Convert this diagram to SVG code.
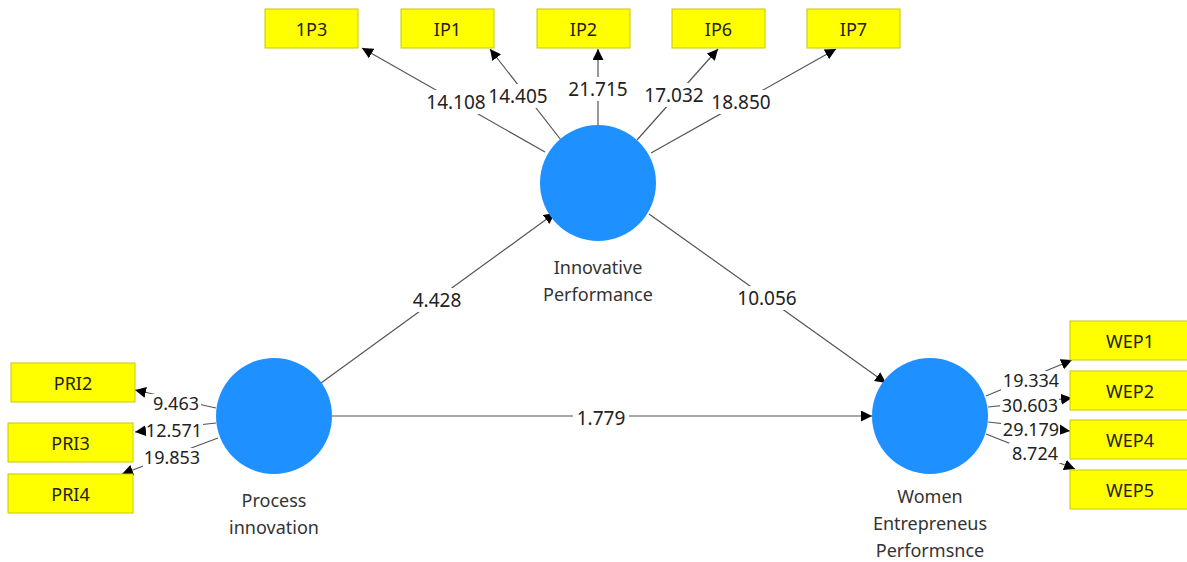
<svg xmlns="http://www.w3.org/2000/svg" width="1187" height="562" viewBox="0 0 1187 562">
<defs>
<marker id="ah" viewBox="0 0 10 10" refX="10" refY="5" markerWidth="11" markerHeight="11" markerUnits="userSpaceOnUse" orient="auto">
<path d="M0,0 L10,5 L0,10 z" fill="#000"/>
</marker>
<style>
.box{fill:#ffff00;stroke:#c8c800;stroke-width:1}
.bt{font-family:"Noto Sans","Open Sans",sans-serif;font-size:18px;fill:#222;text-anchor:middle;dominant-baseline:central}
.lv{fill:#1e90ff}
.lt{font-family:"Noto Sans","Open Sans",sans-serif;font-size:18px;fill:#333;text-anchor:middle}
.c{stroke:#555;stroke-width:1.2;fill:none;marker-end:url(#ah)}
.n{font-family:"Noto Sans","Open Sans",sans-serif;font-size:19px;fill:#222;text-anchor:middle;dominant-baseline:central}
.s{font-size:18px}
.bg{fill:#fff}
</style>
</defs>
<rect width="1187" height="562" fill="#fff"/>
<g id="connectors">
<line class="c" x1="545" y1="152" x2="362" y2="48"/>
<line class="c" x1="561" y1="140" x2="490" y2="49"/>
<line class="c" x1="598" y1="125" x2="598" y2="49"/>
<line class="c" x1="637" y1="140" x2="718" y2="49"/>
<line class="c" x1="651" y1="153" x2="836" y2="49"/>
<line class="c" x1="321" y1="383" x2="555" y2="213"/>
<line class="c" x1="649" y1="214" x2="886" y2="383"/>
<line class="c" x1="332" y1="416" x2="872" y2="416"/>
<line class="c" x1="216" y1="408" x2="135" y2="390"/>
<line class="c" x1="216" y1="423" x2="135" y2="432"/>
<line class="c" x1="218" y1="438" x2="122" y2="474"/>
<line class="c" x1="986" y1="396" x2="1072" y2="360"/>
<line class="c" x1="988" y1="407" x2="1072" y2="398"/>
<line class="c" x1="988" y1="422" x2="1070" y2="431"/>
<line class="c" x1="986" y1="434" x2="1075" y2="469"/>
<rect class="bg" x="422" y="90" width="68" height="24"/>
<rect class="bg" x="486" y="84" width="64" height="24"/>
<rect class="bg" x="564" y="77" width="68" height="24"/>
<rect class="bg" x="642" y="83" width="64" height="24"/>
<rect class="bg" x="707" y="90" width="68" height="24"/>
<rect class="bg" x="409" y="288" width="56" height="24"/>
<rect class="bg" x="731" y="286" width="72" height="24"/>
<rect class="bg" x="573" y="406" width="56" height="24"/>
<rect class="bg" x="151" y="394" width="50" height="20"/>
<rect class="bg" x="146" y="421" width="57" height="20"/>
<rect class="bg" x="143" y="448" width="58" height="20"/>
<rect class="bg" x="1001" y="371" width="60" height="20"/>
<rect class="bg" x="1000" y="396" width="59" height="17"/>
<rect class="bg" x="1001" y="419" width="59" height="20"/>
<rect class="bg" x="1009" y="443" width="52" height="20"/>
<text class="n" x="456" y="102">14.108</text>
<text class="n" x="518" y="96">14.405</text>
<text class="n" x="598" y="89">21.715</text>
<text class="n" x="674" y="95">17.032</text>
<text class="n" x="741" y="102">18.850</text>
<text class="n" x="437" y="300">4.428</text>
<text class="n" x="767" y="298">10.056</text>
<text class="n" x="601" y="418">1.779</text>
<text class="n s" x="176" y="403">9.463</text>
<text class="n s" x="174" y="430">12.571</text>
<text class="n s" x="172" y="457">19.853</text>
<text class="n s" x="1031" y="380">19.334</text>
<text class="n s" x="1030" y="404.5">30.603</text>
<text class="n s" x="1031" y="429">29.179</text>
<text class="n s" x="1035" y="453">8.724</text>
</g>
<g id="IP3"><rect class="box" x="265" y="9" width="93" height="39"/><text class="bt" x="311.5" y="28.5">1P3</text></g>
<g id="IP1"><rect class="box" x="401" y="9" width="93" height="39"/><text class="bt" x="447.5" y="28.5">IP1</text></g>
<g id="IP2"><rect class="box" x="537" y="9" width="93" height="39"/><text class="bt" x="583.5" y="28.5">IP2</text></g>
<g id="IP6"><rect class="box" x="672" y="9" width="93" height="39"/><text class="bt" x="718.5" y="28.5">IP6</text></g>
<g id="IP7"><rect class="box" x="807" y="9" width="93" height="39"/><text class="bt" x="853.5" y="28.5">IP7</text></g>
<g id="PRI2"><rect class="box" x="11" y="363" width="124" height="39"/><text class="bt" x="73" y="382.5">PRI2</text></g>
<g id="PRI3"><rect class="box" x="8" y="423" width="125" height="39"/><text class="bt" x="70.5" y="442.5">PRI3</text></g>
<g id="PRI4"><rect class="box" x="8" y="474" width="125" height="39"/><text class="bt" x="70.5" y="493.5">PRI4</text></g>
<g id="WEP1"><rect class="box" x="1070" y="321" width="118" height="39"/><text class="bt" x="1130" y="340.5">WEP1</text></g>
<g id="WEP2"><rect class="box" x="1070" y="371" width="118" height="39"/><text class="bt" x="1130" y="390.5">WEP2</text></g>
<g id="WEP4"><rect class="box" x="1070" y="420" width="118" height="39"/><text class="bt" x="1130" y="439.5">WEP4</text></g>
<g id="WEP5"><rect class="box" x="1070" y="470" width="118" height="39"/><text class="bt" x="1130" y="489.5">WEP5</text></g>
<g id="InnovativePerformance"><circle class="lv" cx="598" cy="183" r="58"/><text class="lt" x="598" y="274">Innovative</text><text class="lt" x="598" y="301">Performance</text></g>
<g id="ProcessInnovation"><circle class="lv" cx="274" cy="416" r="58"/><text class="lt" x="274" y="507">Process</text><text class="lt" x="274" y="534">innovation</text></g>
<g id="WomenEntrepreneusPerformance"><circle class="lv" cx="930" cy="416" r="58"/><text class="lt" x="930" y="503">Women</text><text class="lt" x="930" y="530">Entrepreneus</text><text class="lt" x="930" y="557">Performsnce</text></g>
</svg>
